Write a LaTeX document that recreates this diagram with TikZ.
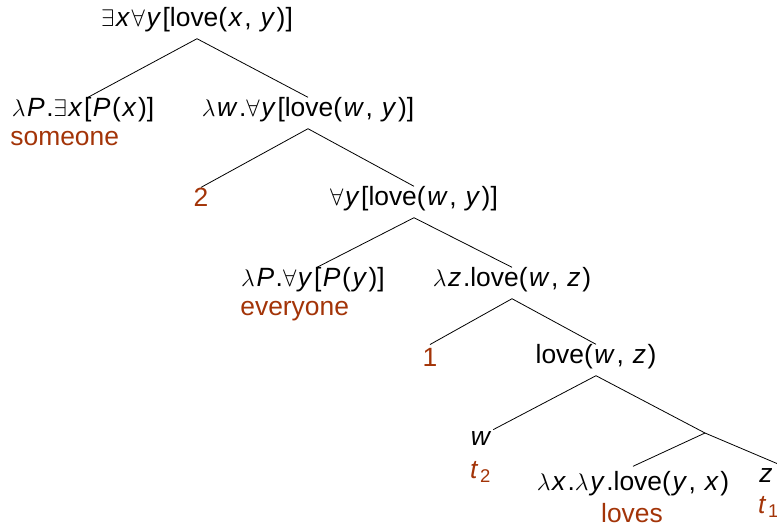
\documentclass[tikz,border=0pt]{standalone}
\usepackage{fontspec}
\setmainfont{Liberation Sans}
\usetikzlibrary{positioning}
\definecolor{wordcol}{RGB}{163,52,8}
\newcommand{\lvar}[1]{\kern.06em\textit{#1}\kern.06em}

\begin{document}
\begin{tikzpicture}[x=0.5pt,y=-0.5pt,font=\fontsize{13.2}{15}\selectfont,
    every node/.style={inner sep=0pt},
    word/.style={text=wordcol}]
    \useasboundingbox (0,0) rectangle (777,526);
    % root
    \node (root) at (197,20) {$\exists$\lvar{x}$\forall$\lvar{y}[love(\lvar{x}, \lvar{y})]};
    % someone
    \node (someF) at (83,110) {$\lambda$\lvar{P}.$\exists$\lvar{x}[\lvar{P}(\lvar{x})]};
    \node[word,anchor=west] (someW) at (10,139) {someone};
    \node (lamw) at (308,110) {$\lambda$\lvar{w}.$\forall$\lvar{y}[love(\lvar{w}, \lvar{y})]};
    % index 2
    \node[word] (two) at (201,197) {2};
    \node (forall) at (414,199) {$\forall$\lvar{y}[love(\lvar{w}, \lvar{y})]};
    % everyone
    \node (everyF) at (313,280) {$\lambda$\lvar{P}.$\forall$\lvar{y}[\lvar{P}(\lvar{y})]};
    \node[word,anchor=west] (everyW) at (240,311) {everyone};
    \node (lamz) at (512,280) {$\lambda$\lvar{z}.love(\lvar{w}, \lvar{z})};
    % index 1
    \node[word] (one) at (430,357) {1};
    \node (lovewz) at (596,357) {love(\lvar{w}, \lvar{z})};
    % traces and verb
    \node (w) at (481,439) {\lvar{w}};
    \node[word] (ttwo) at (480,472) {\lvar{t}\textsubscript{2}};
    \coordinate (vbar) at (705,433);
    \node (lovesF) at (633,484) {$\lambda$\lvar{x}.$\lambda$\lvar{y}.love(\lvar{y}, \lvar{x})};
    \node[word] (lovesW) at (632,513) {loves};
    \node (z) at (766,476) {\lvar{z}};
    \node[word] (tone) at (768,507) {\lvar{t}\textsubscript{1}};
    % branches
    \draw ([yshift=-3pt]root.south) -- ([xshift=2.5pt]someF.north);
    \draw ([yshift=-3pt]root.south) -- (lamw.north);
    \draw ([yshift=-3pt]lamw.south) -- (two.north);
    \draw ([yshift=-3pt]lamw.south) -- (forall.north);
    \draw ([yshift=-3pt]forall.south) -- ([xshift=2pt]everyF.north);
    \draw ([yshift=-3pt]forall.south) -- (lamz.north);
    \draw ([yshift=-3pt]lamz.south) -- ([yshift=1.5pt]one.north);
    \draw ([yshift=-3pt]lamz.south) -- (lovewz.north);
    \draw ([yshift=-3pt]lovewz.south) -- ([yshift=1pt]w.north east);
    \draw ([yshift=-3pt]lovewz.south) -- (vbar);
    \draw (vbar) -- ([yshift=2.5pt]lovesF.north);
    \draw (vbar) -- ([xshift=2.5pt,yshift=2pt]z.north east);
\end{tikzpicture}
\end{document}
